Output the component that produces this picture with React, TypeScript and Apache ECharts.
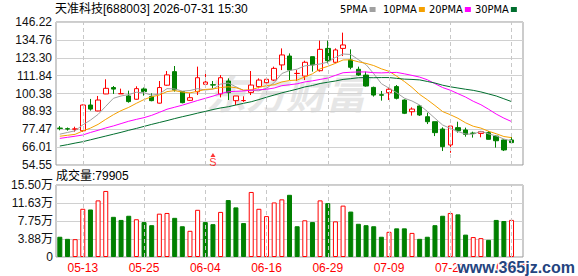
import React, { useEffect, useRef } from 'react';
import * as echarts from 'echarts';

const chartTitle = '天准科技[688003] 2026-07-31 15:30';
const volumeTitle = '成交量:79905';

const dates = [
  '05-08', '05-11', '05-12', '05-13', '05-14', '05-15', '05-18', '05-19', '05-20', '05-21',
  '05-22', '05-25', '05-26', '05-27', '05-28', '05-29', '06-01', '06-02', '06-03', '06-04',
  '06-05', '06-08', '06-09', '06-10', '06-11', '06-12', '06-15', '06-16', '06-17', '06-18',
  '06-22', '06-23', '06-24', '06-25', '06-26', '06-29', '06-30', '07-01', '07-02', '07-03',
  '07-06', '07-07', '07-08', '07-09', '07-10', '07-13', '07-14', '07-15', '07-16', '07-17',
  '07-20', '07-21', '07-22', '07-23', '07-24', '07-27', '07-28', '07-29', '07-30', '07-31',
];

const opens = [
  78.2, 77.8, 77.5, 76.5, 93.0, 89.2, 100.1, 104.2, 100.2, 98.8,
  96.7, 103.3, 98.4, 94.2, 105.7, 114.4, 101.6, 96.0, 101.5, 106.3,
  106.0, 100.1, 108.4, 95.8, 95.8, 101.1, 104.8, 107.3, 109.0, 118.7,
  124.4, 113.2, 111.6, 124.0, 115.0, 129.3, 120.4, 129.3, 121.9, 115.9,
  112.2, 104.3, 99.6, 100.9, 104.8, 96.2, 88.7, 92.4, 85.5, 82.3,
  77.6, 67.4, 78.5, 77.0, 75.0, 74.8, 75.3, 73.1, 70.6, 70.6,
];
const closes = [
  78.0, 77.6, 77.7, 93.0, 90.4, 96.2, 103.7, 103.2, 100.3, 95.2,
  103.5, 101.6, 95.8, 104.2, 112.3, 102.6, 94.5, 97.7, 110.5, 107.7,
  105.8, 110.5, 100.9, 98.8, 95.9, 105.8, 109.0, 109.5, 116.5, 125.1,
  115.4, 113.3, 120.4, 118.7, 128.7, 121.4, 128.3, 131.5, 117.2, 112.2,
  105.2, 99.4, 99.3, 103.1, 97.3, 87.7, 90.4, 86.6, 82.3, 75.3,
  66.3, 79.5, 76.5, 74.2, 74.8, 75.9, 71.0, 70.1, 64.2, 68.9,
];
const lows = [
  76.8, 76.6, 75.9, 75.8, 89.4, 89.0, 100.0, 100.1, 100.1, 94.5,
  96.5, 99.0, 95.4, 94.0, 105.4, 101.6, 94.1, 95.6, 99.4, 105.4,
  103.7, 97.9, 96.2, 93.0, 95.0, 99.4, 103.7, 106.9, 108.4, 115.4,
  109.0, 108.4, 109.0, 114.4, 114.4, 119.7, 119.7, 124.4, 115.9, 111.6,
  104.8, 98.4, 95.8, 96.2, 96.6, 87.2, 86.2, 86.0, 80.8, 73.1,
  63.5, 62.4, 75.3, 72.7, 72.1, 72.3, 71.0, 65.7, 63.5, 68.4,
];
const highs = [
  79.5, 78.6, 79.1, 93.3, 96.9, 98.8, 109.5, 105.2, 103.5, 102.2,
  105.0, 104.2, 100.5, 108.4, 114.8, 118.0, 101.8, 100.5, 117.6, 113.3,
  108.4, 112.2, 110.1, 98.8, 98.6, 114.8, 110.1, 110.1, 117.6, 129.3,
  126.1, 115.4, 121.4, 124.0, 134.3, 134.3, 129.3, 139.4, 128.7, 117.6,
  114.4, 104.8, 102.0, 104.1, 105.8, 96.6, 91.5, 93.0, 88.1, 82.3,
  78.7, 79.5, 82.3, 78.5, 75.9, 76.3, 76.3, 73.8, 71.0, 73.8,
];

// volume in 万 (10k shares)
const volumes = [
  4.36, 3.91, 3.84, 10.38, 10.23, 12.19, 14.22, 8.65, 7.98, 8.88,
  8.13, 7.52, 6.85, 9.33, 9.48, 8.43, 6.62, 5.64, 10.16, 7.52,
  7.07, 9.71, 12.26, 10.68, 7.30, 14.0, 10.38, 8.80, 11.74, 12.41,
  13.39, 6.62, 7.90, 7.52, 12.19, 11.59, 7.67, 11.06, 9.78, 7.15,
  6.85, 6.62, 4.36, 5.42, 6.17, 6.17, 5.19, 3.91, 4.36, 6.85,
  8.88, 9.48, 9.18, 4.82, 4.29, 4.06, 3.69, 7.98, 7.75, 7.99,
];
const volumeUp = [
  0, 0, 1, 1, 0, 1, 1, 0, 0, 0,
  1, 0, 0, 1, 1, 0, 0, 1, 1, 0,
  0, 1, 0, 0, 0, 1, 1, 1, 1, 1,
  0, 0, 1, 0, 1, 0, 1, 1, 0, 0,
  0, 0, 0, 1, 0, 0, 1, 0, 0, 0,
  0, 1, 0, 0, 1, 1, 0, 0, 0, 1,
];

const ma5 = [
  74.3, 75.4, 76.5, 80.3, 83.3, 87.0, 92.2, 97.3, 98.8, 99.7,
  101.2, 100.8, 99.3, 100.1, 103.5, 103.3, 101.9, 102.3, 103.5, 102.6,
  103.2, 106.4, 107.1, 104.7, 102.4, 102.4, 102.1, 103.8, 107.3, 113.2,
  115.1, 116.0, 118.1, 118.6, 119.3, 120.5, 123.5, 125.7, 125.4, 122.1,
  118.9, 113.1, 106.7, 103.8, 100.9, 97.4, 95.6, 93.0, 88.9, 84.5,
  80.2, 78.0, 76.0, 74.4, 74.3, 76.2, 74.5, 73.2, 71.2, 70.0,
];
const ma10 = [
  73.0, 73.6, 74.2, 76.4, 78.2, 80.6, 83.8, 86.8, 89.4, 91.5,
  94.1, 96.5, 98.3, 99.4, 101.6, 102.2, 101.3, 100.8, 101.8, 103.0,
  103.3, 104.2, 104.7, 104.1, 102.5, 102.8, 104.3, 105.4, 106.0, 107.8,
  108.7, 109.0, 111.0, 113.0, 116.2, 117.8, 119.7, 121.9, 122.0, 120.7,
  119.7, 118.3, 116.2, 114.6, 111.5, 108.1, 104.3, 99.8, 96.4, 92.7,
  88.8, 86.8, 84.5, 81.6, 79.4, 78.2, 76.2, 74.6, 72.8, 72.1,
];
const ma20 = [
  71.6, 72.3, 73.0, 73.8, 75.4, 76.8, 78.3, 79.6, 81.1, 82.6,
  83.8, 84.9, 86.4, 88.3, 90.3, 91.6, 92.9, 94.4, 95.9, 97.3,
  98.7, 100.3, 101.5, 101.8, 102.0, 102.5, 102.8, 103.1, 103.9, 105.4,
  106.0, 106.6, 107.8, 108.5, 109.4, 110.3, 112.0, 113.7, 114.0, 114.2,
  114.2, 113.7, 113.6, 113.8, 113.9, 113.0, 112.0, 110.9, 109.2, 106.7,
  104.2, 102.5, 100.3, 98.1, 95.4, 93.2, 90.3, 87.2, 84.6, 82.4,
];
const ma30 = [
  66.7, 67.6, 68.6, 69.5, 70.7, 71.9, 73.1, 74.3, 75.5, 76.8,
  78.0, 79.3, 80.6, 81.8, 83.0, 84.3, 85.5, 86.6, 87.8, 88.9,
  90.1, 91.1, 91.9, 93.0, 94.1, 95.1, 96.5, 98.0, 99.4, 100.8,
  102.0, 103.2, 104.6, 105.5, 106.8, 107.6, 108.4, 109.4, 109.9, 110.5,
  110.6, 110.5, 110.6, 110.6, 110.1, 109.6, 109.4, 109.1, 108.1, 107.1,
  105.7, 104.7, 103.9, 103.1, 102.4, 101.4, 100.1, 98.8, 97.0, 95.2,
];

const priceTicks = ['54.55', '66.01', '77.47', '88.93', '100.38', '111.84', '123.30', '134.76', '146.22'];
const volumeTicks = ['0', '3.88万', '7.75万', '11.63万', '15.50万'];
const xLabels = ['05-13', '05-25', '06-04', '06-16', '06-29', '07-09', '07-21', '07-31'];
const signals = [{ date: '06-05', price: 61.0, label: 'S' }];

const maNames = ['5PMA', '10PMA', '20PMA', '30PMA'];
const maColors = ['#a0a0a0', '#f5a000', '#ff00ff', '#006e2e'];
const legendLefts = [340, 383, 429, 475];

const FONT = '"Liberation Sans", "Noto Sans CJK SC", sans-serif';
const NARROW = '"Liberation Sans Narrow", "DejaVu Sans Condensed", "Liberation Sans", sans-serif';

export default function App() {
  const ref = useRef<HTMLDivElement>(null);
  useEffect(() => {
    if (!ref.current) return;
    const chart = echarts.init(ref.current, undefined, { renderer: 'svg' });
    const priceMin = Number(priceTicks[0]);
    const priceMax = Number(priceTicks[priceTicks.length - 1]);
    const priceStep = (priceMax - priceMin) / (priceTicks.length - 1);
    const volMax = 15.5;
    const volStep = volMax / (volumeTicks.length - 1);
    const cats = [...dates, ''];
    const red = '#ff0000';
    const green = '#008000';
    const vLines = {
      silent: true,
      symbol: ['none', 'none'],
      label: { show: false },
      lineStyle: { color: '#c8c8c8', type: [4, 3], width: 1 },
      emphasis: { disabled: true },
      data: xLabels.map((d) => ({ xAxis: d })),
    };
    const maSeries = [ma5, ma10, ma20, ma30].map((arr, k) => ({
      name: maNames[k],
      type: 'line',
      xAxisIndex: 0,
      yAxisIndex: 0,
      data: arr,
      showSymbol: false,
      symbol: 'none',
      lineStyle: { color: maColors[k], width: 1 },
      itemStyle: { color: maColors[k] },
      silent: true,
      z: 3,
    }));
    chart.setOption({
      animation: false,
      textStyle: { fontFamily: FONT },
      title: [
        {
          text: chartTitle,
          left: 55,
          top: 3,
          padding: 0,
          textStyle: { fontSize: 12, fontWeight: 'normal', color: '#000', fontFamily: FONT },
        },
        {
          text: volumeTitle,
          left: 56,
          top: 170,
          padding: 0,
          textStyle: { fontSize: 12, fontWeight: 'normal', color: '#000', fontFamily: FONT },
        },
      ],
      legend: maNames.map((n, k) => ({
        data: [{ name: n, icon: 'rect' }],
        left: legendLefts[k],
        top: 4,
        padding: 0,
        align: 'right',
        itemWidth: 6,
        itemHeight: 5,
        selectedMode: false,
        textStyle: { fontSize: 11, color: '#000', fontFamily: NARROW, padding: [0, -3, 0, 0] },
      })),
      graphic: [
        {
          type: 'text',
          left: 206,
          top: 72,
          z: 0,
          silent: true,
          style: {
            text: '东方财富',
            fontSize: 40,
            fontWeight: 'bold',
            fontStyle: 'italic',
            fill: '#e6e6e6',
            fontFamily: '"Noto Sans CJK SC", sans-serif',
          },
        },
        {
          type: 'text',
          right: 2,
          bottom: 0,
          z: 100,
          silent: true,
          style: {
            text: 'www.365jz.com',
            fontSize: 16,
            fontWeight: 'bold',
            fill: '#24447f',
            stroke: '#ffffff',
            lineWidth: 2,
            fontFamily: FONT,
          },
        },
      ],
      grid: [
        { left: 56, right: 55, top: 22, height: 143, show: true, borderColor: '#999', borderWidth: 1, backgroundColor: 'transparent' },
        { left: 56, right: 55, top: 185, height: 72, show: true, borderColor: '#999', borderWidth: 1, backgroundColor: 'transparent' },
      ],
      xAxis: [
        {
          type: 'category',
          gridIndex: 0,
          data: cats,
          boundaryGap: true,
          axisLine: { show: false },
          axisTick: { show: false },
          axisLabel: { show: false },
          splitLine: { show: false },
        },
        {
          type: 'category',
          gridIndex: 1,
          data: cats,
          boundaryGap: true,
          axisLine: { show: false },
          axisTick: { show: false },
          splitLine: { show: false },
          axisLabel: {
            interval: (_i: number, v: string) => xLabels.includes(v),
            color: red,
            fontSize: 12,
            margin: 5,
            fontFamily: FONT,
          },
        },
      ],
      yAxis: [
        {
          type: 'value',
          gridIndex: 0,
          min: priceMin,
          max: priceMax,
          interval: priceStep,
          axisLine: { show: false },
          axisTick: { show: false },
          splitLine: { show: true, lineStyle: { color: '#d0d0d0', width: 1 } },
          axisLabel: {
            margin: 4,
            fontSize: 12,
            color: '#111',
            fontFamily: FONT,
            formatter: (v: number) => {
              const k = Math.round((v - priceMin) / priceStep);
              return priceTicks[k] ?? '';
            },
          },
        },
        {
          type: 'value',
          gridIndex: 1,
          min: 0,
          max: volMax,
          interval: volStep,
          axisLine: { show: false },
          axisTick: { show: false },
          splitLine: { show: true, lineStyle: { color: '#d0d0d0', width: 1 } },
          axisLabel: {
            margin: 3,
            fontSize: 12,
            color: '#111',
            fontFamily: FONT,
            formatter: (v: number) => {
              const k = Math.round(v / volStep);
              return volumeTicks[k] ?? '';
            },
          },
        },
      ],
      series: [
        {
          name: 'K',
          type: 'candlestick',
          xAxisIndex: 0,
          yAxisIndex: 0,
          barWidth: 5,
          data: dates.map((_, i) => [opens[i], closes[i], lows[i], highs[i]]),
          itemStyle: {
            color: '#ffffff',
            color0: green,
            borderColor: red,
            borderColor0: green,
            borderColorDoji: red,
            borderWidth: 1,
          },
          markLine: vLines,
          silent: true,
          z: 2,
        },
        ...maSeries,
        {
          name: 'signal',
          type: 'scatter',
          xAxisIndex: 0,
          yAxisIndex: 0,
          symbol: 'triangle',
          symbolSize: [5, 4],
          itemStyle: { color: red },
          data: signals.map((s) => [s.date, s.price]),
          label: {
            show: true,
            position: 'bottom',
            distance: 0,
            formatter: (p: any) => signals[p.dataIndex].label,
            color: red,
            fontSize: 11,
            fontFamily: FONT,
          },
          silent: true,
          z: 4,
        },
        {
          name: 'VOL',
          type: 'bar',
          xAxisIndex: 1,
          yAxisIndex: 1,
          barWidth: 5,
          data: volumes.map((v, i) => ({
            value: v,
            itemStyle: volumeUp[i]
              ? { color: '#ffffff', borderColor: red, borderWidth: 1 }
              : { color: green, borderColor: green, borderWidth: 1 },
          })),
          markLine: vLines,
          silent: true,
        },
      ],
    });
    return () => chart.dispose();
  }, []);
  return <div ref={ref} style={{ width: 578, height: 276, position: 'absolute', left: 0, top: 0 }} />;
}
